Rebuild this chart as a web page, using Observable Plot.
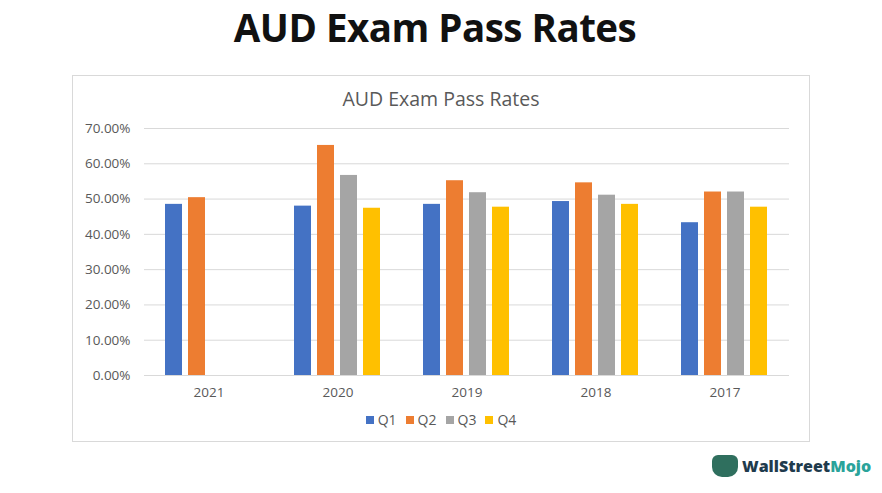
<!DOCTYPE html>
<html>
<head>
<meta charset="utf-8">
<script src="https://cdn.jsdelivr.net/npm/d3@7"></script>
<script src="https://cdn.jsdelivr.net/npm/@observablehq/plot@0.6"></script>
<style>
  html, body { margin: 0; padding: 0; background: #fff; }
  #wrap { position: relative; width: 882px; height: 493px; overflow: hidden; font-family: "Open Sans", sans-serif; }
  #title { position: absolute; left: 0; width: 870px; top: 1px; text-align: center; font-family: "Open Sans", sans-serif; font-weight: 700; font-size: 38.5px; color: #111; letter-spacing: -0.5px; }
  #box { position: absolute; left: 72px; top: 75px; width: 736px; height: 365px; border: 1px solid #d9d9d9; }
  #subtitle { position: absolute; left: 72px; width: 738px; top: 85px; text-align: center; font-size: 19.5px; color: #595959; }
  #chart { position: absolute; left: 72px; top: 110px; }
  #legend { position: absolute; left: 0; width: 882px; top: 410px; display: flex; justify-content: center; gap: 9px; font-size: 14px; color: #595959; padding-left: 0; }
  #legend span.item { display: inline-flex; align-items: center; gap: 4px; }
  #legend span.sw { width: 8px; height: 8px; display: inline-block; }
  #logo { position: absolute; left: 712px; top: 455px; display: flex; align-items: center; gap: 4px; font-family: "Open Sans", sans-serif; font-weight: 800; font-size: 16px; color: #1f3b4d; }
  #logo .mojo { color: #2aa39a; }
  #logo .icon { width: 26px; height: 22px; background: #2f6f5e; border-radius: 6px 6px 10px 10px; display: inline-block; }
</style>
</head>
<body>
<div id="wrap">
  <div id="title">AUD Exam Pass Rates</div>
  <div id="box"></div>
  <div id="subtitle">AUD Exam Pass Rates</div>
  <div id="chart"></div>
  <div id="legend"></div>
  <div id="logo"><span class="icon"></span><span>WallStreet<span class="mojo">Mojo</span></span></div>
</div>
<script>
const years = ["2021", "2020", "2019", "2018", "2017"];
const quarters = ["Q1", "Q2", "Q3", "Q4"];
const colors = ["#4472C4", "#ED7D31", "#A5A5A5", "#FFC000"];
const q1 = [0.485, 0.480, 0.485, 0.493, 0.433];
const q2 = [0.504, 0.652, 0.552, 0.546, 0.520];
const q3 = [null, 0.567, 0.518, 0.511, 0.520];
const q4 = [null, 0.474, 0.477, 0.485, 0.477];
const yTicks = [0, 0.1, 0.2, 0.3, 0.4, 0.5, 0.6, 0.7];

const series = [q1, q2, q3, q4];
const data = [];
years.forEach((yr, i) => {
  quarters.forEach((q, j) => {
    const v = series[j][i];
    if (v != null) data.push({year: yr, q, value: v});
  });
});

const chart = Plot.plot({
  width: 738,
  height: 300,
  marginLeft: 70,
  marginRight: 20,
  marginTop: 18,
  marginBottom: 35,
  style: {fontFamily: "Open Sans, sans-serif", fontSize: "13.5px", color: "#595959", background: "transparent"},
  fx: {domain: years, padding: 0, label: null},
  x: {domain: quarters, paddingInner: 0.255, paddingOuter: 0.89, axis: null},
  y: {domain: [0, 0.7], label: null},
  color: {domain: quarters, range: colors},
  marks: [
    Plot.gridY(yTicks, {stroke: "#d9d9d9", strokeOpacity: 1}),
    Plot.barY(data, {fx: "year", x: "q", y: "value", fill: "q"}),
    Plot.axisY(yTicks, {tickSize: 0, tickPadding: 14, tickFormat: d => (d * 100).toFixed(2) + "%", label: null}),
    Plot.axisFx({anchor: "bottom", tickSize: 0, tickPadding: 12, label: null})
  ]
});
document.getElementById("chart").appendChild(chart);

const legend = document.getElementById("legend");
quarters.forEach((q, j) => {
  const item = document.createElement("span");
  item.className = "item";
  const sw = document.createElement("span");
  sw.className = "sw";
  sw.style.background = colors[j];
  item.appendChild(sw);
  item.appendChild(document.createTextNode(q));
  legend.appendChild(item);
});
</script>
</body>
</html>
